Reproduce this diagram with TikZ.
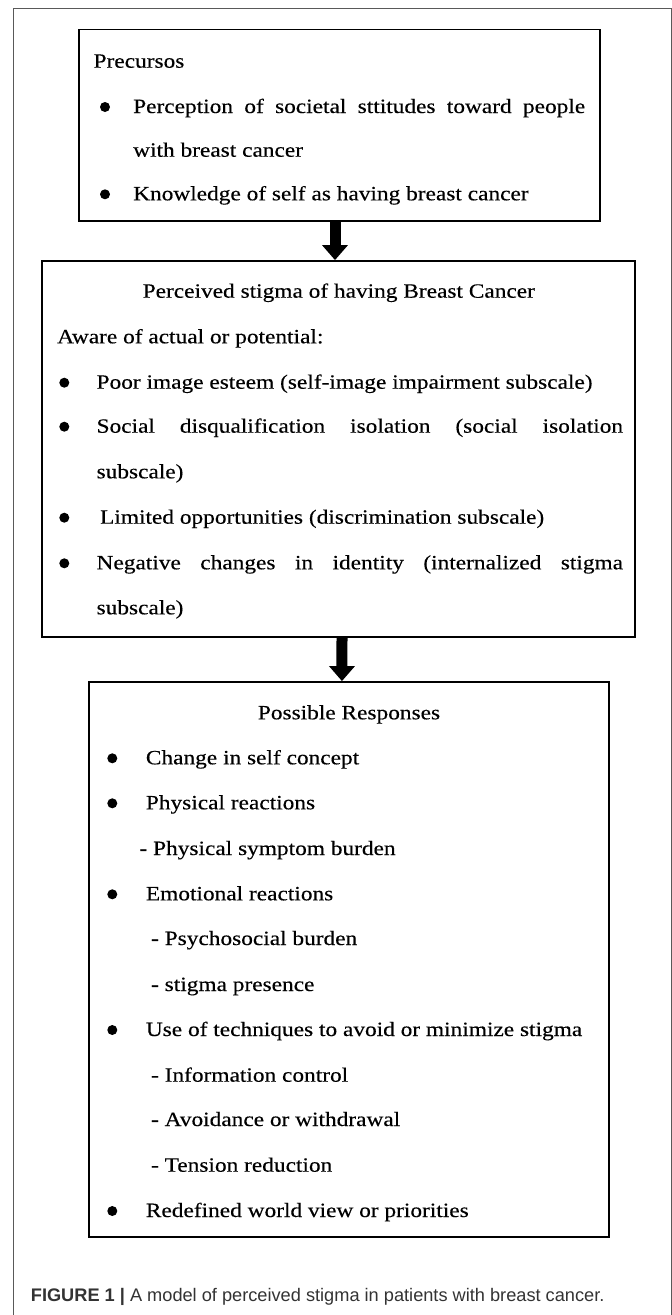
\documentclass[tikz,border=0pt]{standalone}
\usepackage{fontspec}
\setmainfont{Liberation Serif}[FakeStretch=1.15,FakeBold=0.3]
\newfontfamily\capfont{Liberation Sans}
\usetikzlibrary{arrows.meta,calc}
\tikzset{
  frameline/.style={draw=black!65, line width=0.9pt},
  box/.style={draw=black, line width=1.8pt, inner sep=0pt, fill=none},
  txt/.style={anchor=base west, inner sep=0pt, font=\fontsize{20.3pt}{24pt}\selectfont},
  ctxt/.style={anchor=base, inner sep=0pt, font=\fontsize{20.3pt}{24pt}\selectfont},
  dot/.style={circle, fill=black, inner sep=0pt, minimum size=10pt},
  flowarrow/.style={line width=11pt, -{Triangle[width=25pt,length=15pt]}},
  captxt/.style={anchor=base west, inner sep=0pt, text=black!80, font=\capfont\fontsize{18.2pt}{21pt}\selectfont},
}
\begin{document}
\begin{tikzpicture}[x=1pt,y=-1pt]
\useasboundingbox (0,0) rectangle (672,1315);
% outer frame
\coordinate (fBL) at (13.3,1315);
\coordinate (fTL) at (13.3,8.3);
\coordinate (fTR) at (671,8.3);
\coordinate (fBR) at (671,1315);
\draw[frameline] (fBL) -- (fTL) -- (fTR) -- (fBR);

% boxes
\node[box, minimum width=521pt, minimum height=191.5pt] (box1) at (339.5,125.25) {};
\node[box, minimum width=593pt, minimum height=376pt] (box2) at (338.8,449) {};
\node[box, minimum width=519.3pt, minimum height=555pt] (box3) at (348.95,959.5) {};

% arrows
\draw[flowarrow] ([xshift=-4.5pt]box1.south) -- ([xshift=-3.8pt]box2.north);
\draw[flowarrow] ([xshift=3.2pt]box2.south) -- ([xshift=-7pt]box3.north);

% box 1
\node[txt] (p0) at (93.4,67.7) {Precursos};
\node[dot] (p1d) at (105,107) {};
\node[txt] (p1) at (133,113) {\makebox[452pt][s]{Perception of societal sttitudes toward people}};
\node[txt] (p1b) at (133,156.7) {with breast cancer};
\node[dot] (p2d) at (105,194.3) {};
\node[txt] (p2) at (133,200.3) {Knowledge of self as having breast cancer};

% box 2
\node[ctxt] (s0) at (338.8,297.7) {Perceived stigma of having Breast Cancer};
\node[txt] (s0b) at (57,343.3) {Aware of actual or potential:};
\node[dot] (s1d) at (64.3,382.7) {};
\node[txt] (s1) at (96.4,388.7) {Poor image esteem (self-image impairment subscale)};
\node[dot] (s2d) at (64.3,426.7) {};
\node[txt] (s2) at (96.4,432.7) {\makebox[526.4pt][s]{Social disqualification isolation (social isolation}};
\node[txt] (s2b) at (96.4,478.3) {subscale)};
\node[dot] (s3d) at (64.3,517.7) {};
\node[txt] (s3) at (99.9,523.7) {Limited opportunities (discrimination subscale)};
\node[dot] (s4d) at (64.3,563.3) {};
\node[txt] (s4) at (96.4,569.3) {\makebox[526.4pt][s]{Negative changes in identity (internalized stigma}};
\node[txt] (s4b) at (96.4,614.3) {subscale)};

% box 3
\node[ctxt] (r0) at (349,719.3) {Possible Responses};
\node[dot] (r1d) at (112.3,758.3) {};
\node[txt] (r1) at (145.7,764.3) {Change in self concept};
\node[dot] (r2d) at (112.3,803.3) {};
\node[txt] (r2) at (145.7,809.3) {Physical reactions};
\node[txt] (r2a) at (139.3,855) {- Physical symptom burden};
\node[dot] (r3d) at (112.3,894.3) {};
\node[txt] (r3) at (145.7,900.3) {Emotional reactions};
\node[txt] (r3a) at (150.9,945) {- Psychosocial burden};
\node[txt] (r3b) at (150.9,991) {- stigma presence};
\node[dot] (r4d) at (112.3,1030) {};
\node[txt] (r4) at (145.7,1036) {Use of techniques to avoid or minimize stigma};
\node[txt] (r4a) at (150.9,1081.7) {- Information control};
\node[txt] (r4b) at (150.9,1126) {- Avoidance or withdrawal};
\node[txt] (r4c) at (150.9,1171.7) {- Tension reduction};
\node[dot] (r5d) at (112.3,1211) {};
\node[txt] (r5) at (145.7,1217) {Redefined world view or priorities};

% caption
\node[captxt] (cap) at (30.7,1301) {\textbf{FIGURE 1} \textbf{|} A model of perceived stigma in patients with breast cancer.};
\end{tikzpicture}
\end{document}
